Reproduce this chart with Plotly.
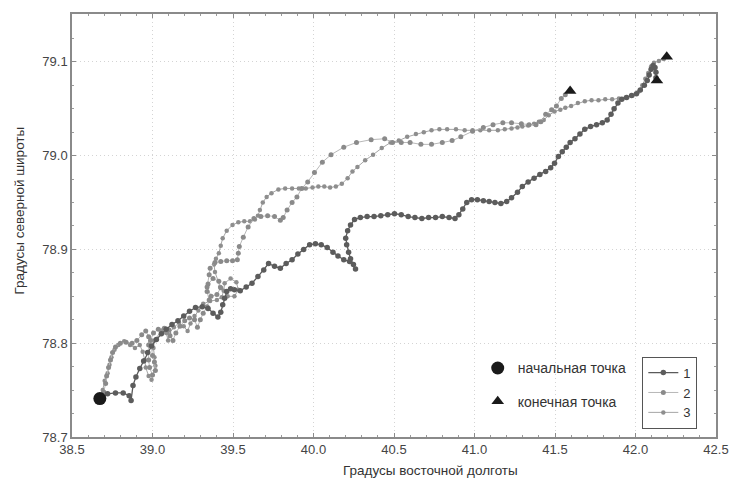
import plotly.graph_objects as go

# Track 1 (dark)
lon1 = [38.673, 38.721, 38.770, 38.818, 38.855, 38.867, 38.879, 38.897, 38.921, 38.945, 38.970, 38.994,
        39.024, 39.055, 39.085, 39.121, 39.158, 39.194, 39.230, 39.267, 39.309, 39.345, 39.376, 39.406,
        39.424, 39.436, 39.448, 39.461, 39.485, 39.509, 39.545, 39.582, 39.618, 39.655, 39.691, 39.721,
        39.758, 39.794, 39.830, 39.867, 39.903, 39.939, 39.976, 40.012, 40.048, 40.085, 40.121, 40.152,
        40.188, 40.224, 40.248, 40.261, 40.230, 40.218, 40.206, 40.200, 40.212, 40.230, 40.255, 40.291,
        40.333, 40.376, 40.418, 40.461, 40.503, 40.545, 40.588, 40.630, 40.673, 40.715, 40.758, 40.800,
        40.842, 40.879, 40.903, 40.927, 40.952, 40.982, 41.018, 41.055, 41.091, 41.127, 41.164, 41.200,
        41.230, 41.267, 41.297, 41.333, 41.370, 41.406, 41.442, 41.473, 41.497, 41.521, 41.545, 41.570,
        41.594, 41.624, 41.655, 41.685, 41.721, 41.758, 41.794, 41.824, 41.848, 41.867, 41.891, 41.915,
        41.945, 41.976, 42.006, 42.030, 42.055, 42.073, 42.085, 42.097, 42.109, 42.121, 42.127, 42.127]
lat1 = [78.741, 78.746, 78.747, 78.747, 78.744, 78.739, 78.755, 78.764, 78.773, 78.781, 78.790, 78.797,
        78.804, 78.810, 78.815, 78.820, 78.824, 78.829, 78.834, 78.838, 78.839, 78.837, 78.832, 78.828,
        78.833, 78.841, 78.848, 78.855, 78.858, 78.857, 78.856, 78.860, 78.864, 78.871, 78.878, 78.885,
        78.882, 78.880, 78.885, 78.889, 78.895, 78.900, 78.905, 78.906, 78.905, 78.902, 78.897, 78.893,
        78.889, 78.887, 78.884, 78.879, 78.890, 78.897, 78.905, 78.912, 78.920, 78.926, 78.932, 78.934,
        78.935, 78.935, 78.936, 78.937, 78.938, 78.937, 78.935, 78.934, 78.933, 78.934, 78.934, 78.935,
        78.934, 78.933, 78.937, 78.943, 78.950, 78.953, 78.953, 78.952, 78.951, 78.950, 78.949, 78.951,
        78.955, 78.961, 78.967, 78.972, 78.976, 78.980, 78.983, 78.987, 78.992, 78.999, 79.004, 79.009,
        79.014, 79.018, 79.023, 79.028, 79.031, 79.033, 79.035, 79.038, 79.044, 79.050, 79.056, 79.060,
        79.062, 79.064, 79.066, 79.070, 79.075, 79.080, 79.086, 79.092, 79.096, 79.094, 79.089, 79.083]

# Track 2
lon2 = [38.673, 38.697, 38.709, 38.715, 38.727, 38.739, 38.752, 38.770, 38.800, 38.836, 38.873, 38.903,
        38.933, 38.958, 38.976, 38.976, 38.976, 38.982, 39.000, 39.018, 39.012, 39.000, 38.988, 39.006,
        39.036, 39.073, 39.103, 39.109, 39.127, 39.145, 39.170, 39.200, 39.230, 39.261, 39.279, 39.297,
        39.315, 39.339, 39.352, 39.339, 39.345, 39.376, 39.412, 39.424, 39.400, 39.364, 39.339, 39.352,
        39.358, 39.388, 39.424, 39.461, 39.497, 39.527, 39.533, 39.539, 39.564, 39.594, 39.630, 39.673,
        39.715, 39.758, 39.794, 39.812, 39.836, 39.867, 39.897, 39.927, 39.964, 40.006, 40.055, 40.109,
        40.188, 40.267, 40.358, 40.442, 40.491, 40.545, 40.600, 40.667, 40.733, 40.800, 40.861, 40.915,
        40.988, 41.055, 41.115, 41.176, 41.230, 41.291, 41.339, 41.382, 41.412, 41.442, 41.479, 41.509,
        41.539, 41.564]
lat2 = [78.741, 78.748, 78.757, 78.765, 78.774, 78.782, 78.790, 78.796, 78.800, 78.801, 78.800, 78.803,
        78.809, 78.813, 78.807, 78.798, 78.782, 78.774, 78.766, 78.771, 78.780, 78.787, 78.803, 78.811,
        78.815, 78.816, 78.814, 78.808, 78.803, 78.811, 78.818, 78.824, 78.827, 78.825, 78.817, 78.825,
        78.832, 78.839, 78.846, 78.855, 78.863, 78.869, 78.866, 78.859, 78.852, 78.850, 78.860, 78.873,
        78.880, 78.886, 78.887, 78.888, 78.888, 78.889, 78.896, 78.903, 78.913, 78.924, 78.933, 78.935,
        78.936, 78.935, 78.931, 78.934, 78.942, 78.950, 78.956, 78.965, 78.972, 78.982, 78.993, 79.001,
        79.009, 79.014, 79.017, 79.018, 79.014, 79.014, 79.014, 79.012, 79.012, 79.014, 79.016, 79.020,
        79.026, 79.030, 79.033, 79.035, 79.035, 79.034, 79.033, 79.033, 79.036, 79.044, 79.049, 79.053,
        79.061, 79.065]

# Track 3
lon3 = [38.673, 38.691, 38.703, 38.721, 38.733, 38.745, 38.764, 38.788, 38.824, 38.861, 38.891, 38.921,
        38.939, 38.952, 38.958, 38.976, 38.994, 39.018, 39.012, 39.006, 39.012, 39.055, 39.085, 39.097,
        39.103, 39.133, 39.164, 39.194, 39.218, 39.236, 39.261, 39.285, 39.315, 39.358, 39.400, 39.430,
        39.442, 39.448, 39.485, 39.521, 39.533, 39.509, 39.467, 39.420, 39.388, 39.382, 39.394, 39.412,
        39.424, 39.436, 39.461, 39.497, 39.533, 39.570, 39.606, 39.636, 39.655, 39.667, 39.685, 39.709,
        39.739, 39.782, 39.824, 39.867, 39.909, 39.952, 39.994, 40.030, 40.067, 40.103, 40.139, 40.176,
        40.212, 40.242, 40.273, 40.321, 40.370, 40.424, 40.479, 40.530, 40.582, 40.636, 40.685, 40.733,
        40.782, 40.830, 40.885, 40.939, 40.988, 41.036, 41.091, 41.145, 41.188, 41.230, 41.267, 41.297,
        41.333, 41.370, 41.400, 41.430, 41.461, 41.497, 41.533, 41.564, 41.600, 41.642, 41.685, 41.727,
        41.770, 41.812, 41.855, 41.897, 41.939, 41.982, 42.018, 42.042, 42.061, 42.079, 42.097, 42.115,
        42.145, 42.176]
lat3 = [78.741, 78.750, 78.760, 78.768, 78.777, 78.785, 78.793, 78.798, 78.802, 78.798, 78.795, 78.798,
        78.791, 78.782, 78.774, 78.765, 78.761, 78.776, 78.785, 78.795, 78.803, 78.813, 78.811, 78.803,
        78.811, 78.817, 78.822, 78.818, 78.813, 78.821, 78.829, 78.835, 78.842, 78.845, 78.846, 78.849,
        78.856, 78.864, 78.869, 78.865, 78.857, 78.850, 78.850, 78.860, 78.876, 78.884, 78.890, 78.896,
        78.904, 78.912, 78.920, 78.926, 78.929, 78.930, 78.930, 78.932, 78.936, 78.942, 78.950, 78.956,
        78.960, 78.964, 78.965, 78.965, 78.965, 78.965, 78.966, 78.967, 78.967, 78.966, 78.967, 78.970,
        78.976, 78.983, 78.988, 78.995, 79.001, 79.008, 79.014, 79.016, 79.020, 79.023, 79.025, 79.027,
        79.028, 79.028, 79.028, 79.027, 79.027, 79.027, 79.027, 79.027, 79.028, 79.029, 79.030, 79.031,
        79.032, 79.034, 79.036, 79.038, 79.043, 79.047, 79.049, 79.051, 79.053, 79.056, 79.058, 79.059,
        79.059, 79.060, 79.060, 79.061, 79.062, 79.064, 79.068, 79.075, 79.082, 79.088, 79.095, 79.099,
        79.101, 79.103]

start_lon = [38.673]
start_lat = [78.741]
end_lon = [42.133, 41.594, 42.194]
end_lat = [79.080, 79.069, 79.1055]

x_ticks = [38.5, 39.0, 39.5, 40.0, 40.5, 41.0, 41.5, 42.0, 42.5]
y_ticks = [78.7, 78.8, 78.9, 79.0, 79.1]

fig = go.Figure()
fig.add_trace(go.Scatter(x=lon3, y=lat3, name="3", mode="lines+markers",
                         line=dict(color="#a6a6a6", width=1),
                         marker=dict(color="#8e8e8e", size=4.5), legendrank=3))
fig.add_trace(go.Scatter(x=lon2, y=lat2, name="2", mode="lines+markers",
                         line=dict(color="#b8b8b8", width=1),
                         marker=dict(color="#8a8a8a", size=5), legendrank=2))
fig.add_trace(go.Scatter(x=lon1, y=lat1, name="1", mode="lines+markers",
                         line=dict(color="#5a5a5a", width=1.3),
                         marker=dict(color="#5c5c5c", size=5.5), legendrank=1))
fig.add_trace(go.Scatter(x=start_lon, y=start_lat, name="начальная точка", mode="markers",
                         marker=dict(color="#1a1a1a", size=13, symbol="circle"),
                         legend="legend2", legendgroup="a"))
fig.add_trace(go.Scatter(x=end_lon, y=end_lat, name="конечная точка", mode="markers",
                         marker=dict(color="#1a1a1a", size=11, symbol="triangle-up"),
                         legend="legend2", legendgroup="b"))

axis_common = dict(showline=True, linecolor="#8a8a8a", linewidth=1.5, mirror="ticks",
                   ticks="inside", ticklen=4, tickcolor="#8a8a8a",
                   showgrid=True, gridcolor="#d4d4d4", griddash="1px,3px", gridwidth=1,
                   zeroline=False, tickfont=dict(size=13, color="#444444"),
                   tickformat=".1f")

fig.update_xaxes(range=[38.5, 42.5], tickvals=x_ticks,
                 minor=dict(dtick=0.1, ticks="inside", ticklen=2, tickcolor="#9a9a9a", showgrid=False),
                 **axis_common)
fig.update_yaxes(range=[78.7, 79.151], tickvals=y_ticks,
                 minor=dict(dtick=0.025, ticks="inside", ticklen=2, tickcolor="#9a9a9a", showgrid=False),
                 **axis_common)

fig.update_layout(
    width=740, height=479,
    margin=dict(l=72, r=11, t=14, b=42),
    paper_bgcolor="white", plot_bgcolor="white",
    font=dict(family="Liberation Sans, Arial, sans-serif", color="#333333"),
    showlegend=True,
    legend=dict(x=0.971, y=0.19, xanchor="right", yanchor="top",
                bordercolor="#555555", borderwidth=1, bgcolor="white",
                font=dict(size=13, color="#333333"), itemwidth=30, tracegroupgap=0),
    legend2=dict(x=0.63, y=0.2, xanchor="left", yanchor="top",
                 bgcolor="rgba(0,0,0,0)", font=dict(size=14, color="#333333"),
                 tracegroupgap=12),
    annotations=[
        dict(text="Градусы восточной долготы", xref="paper", yref="paper",
             x=(438 - 72) / 657, y=-0.08, xanchor="center", yanchor="middle",
             showarrow=False, font=dict(size=13.5, color="#333333")),
        dict(text="Градусы северной широты", xref="paper", yref="paper",
             x=-0.083, y=(437 - 211) / 423, xanchor="center", yanchor="middle",
             textangle=-90, showarrow=False, font=dict(size=13.5, color="#333333")),
    ],
)

fig.write_html("out.html", post_script="document.body.style.margin='0px';",
               config={"displayModeBar": False})
